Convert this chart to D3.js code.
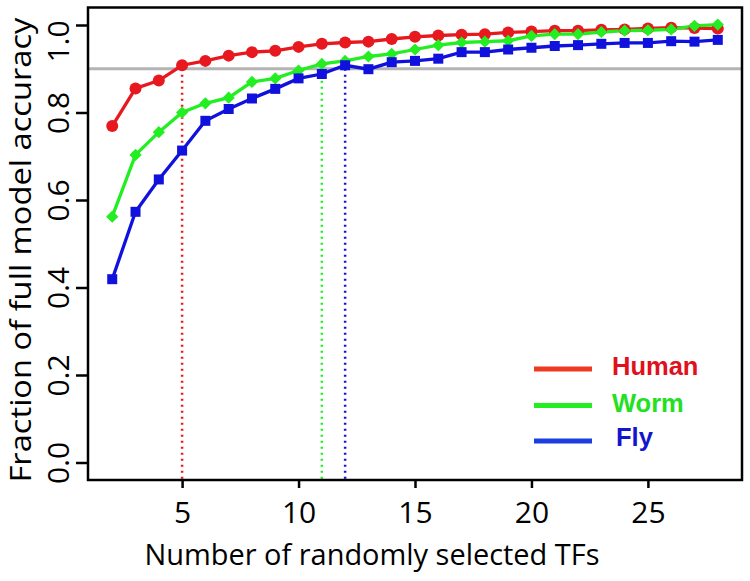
<!DOCTYPE html>
<html><head><meta charset="utf-8">
<script src="https://cdn.jsdelivr.net/npm/d3@7"></script>
<style>body{margin:0;background:#fff}svg{display:block}</style>
</head><body>
<svg id="c" width="750" height="581"></svg>
<script>
const nTFs = [2,3,4,5,6,7,8,9,10,11,12,13,14,15,16,17,18,19,20,21,22,23,24,25,26,27,28];
const human = [0.769,0.855,0.873,0.908,0.918,0.930,0.938,0.941,0.950,0.957,0.960,0.962,0.968,0.973,0.976,0.978,0.979,0.983,0.985,0.987,0.987,0.989,0.990,0.992,0.994,0.993,0.992];
const worm  = [0.562,0.703,0.755,0.800,0.821,0.834,0.870,0.878,0.896,0.911,0.918,0.928,0.934,0.944,0.954,0.960,0.962,0.964,0.975,0.979,0.979,0.984,0.987,0.988,0.990,0.998,1.001];
const fly   = [0.419,0.573,0.647,0.713,0.781,0.808,0.832,0.854,0.878,0.888,0.908,0.899,0.915,0.918,0.923,0.938,0.938,0.944,0.948,0.952,0.954,0.957,0.959,0.959,0.963,0.962,0.966];
const seriesNames = ["Human","Worm","Fly"];
const thresholdX = [5, 11, 12];
const thresholdY = 0.9;
const xTicks = [5,10,15,20,25];
const yTicks = [0.0,0.2,0.4,0.6,0.8,1.0];

const colors = ["#e8191e","#22ee22","#1111dd"];
const legendColors = ["#ef3a22","#22ee22","#1a3ee0"];
const textColors = ["#e0101c","#22e022","#1414cc"];

const svg = d3.select("#c");
const L = 88, R = 742, T = 7.5, B = 480;
const x = d3.scaleLinear().domain([0.96, 29.04]).range([L, R]);
const y = d3.scaleLinear().domain([-0.04, 1.04]).range([B, T]);

// threshold line
svg.append("line").attr("x1", L).attr("x2", R).attr("y1", y(thresholdY)).attr("y2", y(thresholdY))
  .attr("stroke", "#b4b4b4").attr("stroke-width", 3);

// dotted verticals
thresholdX.forEach((v, i) => {
  svg.append("line").attr("x1", x(v)).attr("x2", x(v)).attr("y1", y(thresholdY)).attr("y2", B)
    .attr("stroke", colors[i]).attr("stroke-width", 2.5).attr("stroke-dasharray", "2,4");
});

const data = [human, worm, fly];
const line = d3.line().x((d, i) => x(nTFs[i])).y(d => y(d));
data.forEach((s, k) => {
  svg.append("path").attr("d", line(s)).attr("fill", "none").attr("stroke", colors[k]).attr("stroke-width", 3.3);
});
// markers
const g = svg.append("g");
g.selectAll("circle").data(human).join("circle")
  .attr("cx", (d, i) => x(nTFs[i])).attr("cy", d => y(d)).attr("r", 6).attr("fill", colors[0]);
g.selectAll("path.dia").data(worm).join("path").attr("class", "dia")
  .attr("d", d3.symbol().type(d3.symbolDiamond2).size(95))
  .attr("transform", (d, i) => `translate(${x(nTFs[i])},${y(d)})`)
  .attr("fill", colors[1]);
g.selectAll("rect").data(fly).join("rect")
  .attr("x", (d, i) => x(nTFs[i]) - 5).attr("y", d => y(d) - 5).attr("width", 10).attr("height", 10)
  .attr("fill", colors[2]);

// box
svg.append("rect").attr("x", L).attr("y", T).attr("width", R - L).attr("height", B - T)
  .attr("fill", "none").attr("stroke", "#000").attr("stroke-width", 2.5);

const font = "'Open Sans', 'Noto Sans', sans-serif";
// x axis
const xa = svg.append("g").attr("transform", `translate(0,${B})`)
  .call(d3.axisBottom(x).tickValues(xTicks).tickSize(8).tickSizeOuter(0).tickPadding(8));
xa.select(".domain").remove();
xa.selectAll("line").attr("stroke", "#000").attr("stroke-width", 2.5);
xa.selectAll("text").attr("font-family", font).attr("font-size", 30).attr("fill", "#000")
  .attr("dy", null).attr("y", 43);

// y axis
const ya = svg.append("g").attr("transform", `translate(${L},0)`)
  .call(d3.axisLeft(y).tickValues(yTicks).tickFormat(d3.format(".1f")).tickSize(12).tickSizeOuter(0));
ya.select(".domain").remove();
ya.selectAll("line").attr("stroke", "#000").attr("stroke-width", 2.5);
ya.selectAll("text").attr("font-family", font).attr("font-size", 30).attr("fill", "#000")
  .attr("x", null).attr("dy", null).attr("text-anchor", "middle")
  .attr("transform", d => `translate(-19,${d === 1.0 ? 16 : 0}) rotate(-90)`);

// axis titles
svg.append("text").attr("x", 372).attr("y", 565).attr("text-anchor", "middle")
  .attr("font-family", font).attr("font-size", 29).attr("textLength", 455).attr("lengthAdjust", "spacingAndGlyphs")
  .text("Number of randomly selected TFs");
svg.append("text").attr("transform", "translate(31,250) rotate(-90)").attr("text-anchor", "middle")
  .attr("font-family", font).attr("font-size", 29).attr("textLength", 465).attr("lengthAdjust", "spacingAndGlyphs")
  .text("Fraction of full model accuracy");

// legend
const lgY = [369, 405.5, 441];
const lgTextY = [375, 411.5, 446];
const lgTextX = [612, 612, 616];
seriesNames.forEach((n, i) => {
  svg.append("line").attr("x1", 534).attr("x2", 592).attr("y1", lgY[i]).attr("y2", lgY[i])
    .attr("stroke", legendColors[i]).attr("stroke-width", 5);
  svg.append("text").attr("x", lgTextX[i]).attr("y", lgTextY[i])
    .attr("font-family", "'Liberation Sans', Arial, sans-serif").attr("font-weight", "bold")
    .attr("font-size", 25.5).attr("fill", textColors[i]).text(n);
});
</script>
</body></html>
